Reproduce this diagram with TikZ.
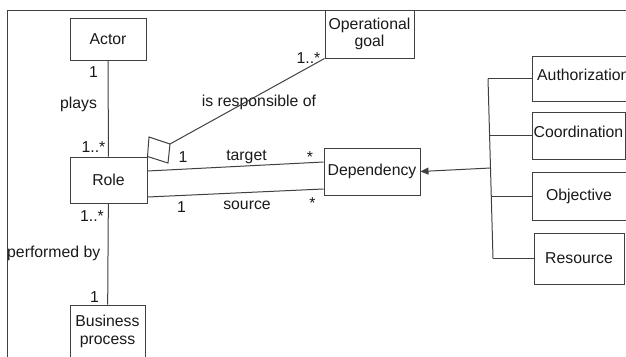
\documentclass[tikz,border=0pt]{standalone}
\usepackage{fontspec}
\setmainfont{Liberation Sans}
\usetikzlibrary{arrows.meta,calc}
\definecolor{lc}{RGB}{64,64,64}
\begin{document}
\begin{tikzpicture}[x=1pt,y=-1pt,
  every node/.style={font=\fontsize{15.8}{17.5}\selectfont, text=black!90},
  box/.style={draw=lc, line width=1pt, rectangle, inner sep=0pt, align=center},
  lbl/.style={anchor=base, inner sep=0pt},
  conn/.style={draw=lc, line width=1pt}]
\useasboundingbox (0,0) rectangle (626,356);
% frame
\draw[conn] (7,362) -- (7,10) -- (632,10);
% boxes
\node[box, minimum width=76pt, minimum height=42pt] (actor) at (108,39) {Actor};
\node[box, minimum width=77pt, minimum height=46pt] (role) at (108.5,180) {Role};
\node[box, minimum width=75pt, minimum height=53pt] (bp) at (107.5,331.5) {Business\\process};
\node[box, minimum width=89pt, minimum height=48pt] (goal) at (369.5,34) {Operational\\goal};
\node[box, minimum width=96pt, minimum height=47pt] (dep) at (372,171.5) {Dependency};
\node[box, minimum width=108pt, minimum height=45pt] (auth) at (586,78.5) {};
\node[lbl, anchor=base west] (authtxt) at (537,80) {Authorization};
\node[box, minimum width=93pt, minimum height=47pt] (coord) at (578.5,135.5) {};
\node[lbl] (coordtxt) at (578.5,137) {Coordination};
\node[box, minimum width=94pt, minimum height=48pt] (obj) at (579,196) {Objective};
\node[box, minimum width=90pt, minimum height=51pt] (res) at (579,258.5) {Resource};
% labels
\node[lbl] (m1) at (93.5,77) {1};
\node[lbl] (plays) at (78.5,108) {plays};
\node[lbl] (m2) at (93.5,152) {1..*};
\node[lbl] (m3) at (92,221) {1..*};
\node[lbl, anchor=base west] (perf) at (7,257) {performed by};
\node[lbl] (m4) at (94.5,302) {1};
\node[lbl] (m5) at (308.5,63) {1..*};
\node[lbl] (resp) at (259,106) {is responsible of};
\node[lbl] (m6) at (183,162) {1};
\node[lbl] (tgt) at (246.5,160) {target};
\node[lbl] (m7) at (310,162) {*};
\node[lbl] (m8) at (181.5,212) {1};
\node[lbl] (src) at (247,209) {source};
\node[lbl] (m9) at (312.5,208) {*};
% connectors
\draw[conn] (actor) -- (role);
\draw[conn] (role) -- (bp);
\draw[conn] ([yshift=9pt]role.east) -- ([yshift=9.5pt]dep.west);
\draw[conn] ([yshift=-17pt]role.east) -- ([yshift=-17.5pt]dep.west);
\coordinate (dtip) at (170,144);
\draw[conn, line join=miter] (role.north east) -- (149,137) -- (dtip) -- (168,163) -- cycle;
\draw[conn] (dtip) -- (goal.south west);
% generalisation tree
\coordinate (t1) at (488,78.5);
\coordinate (t2) at (489.6,135.5);
\coordinate (ta) at (490.5,168);
\coordinate (t3) at (491.3,196);
\coordinate (t4) at (493,258.5);
\draw[conn] (t1) -- (t4);
\draw[conn] (t1) -- (auth.west);
\draw[conn] (t2) -- (coord.west);
\draw[conn] (t3) -- (obj.west);
\draw[conn] (t4) -- (res.west);
\draw[conn, -{Triangle[length=8pt,width=7pt]}] (ta) -- (dep.east);
\end{tikzpicture}
\end{document}
